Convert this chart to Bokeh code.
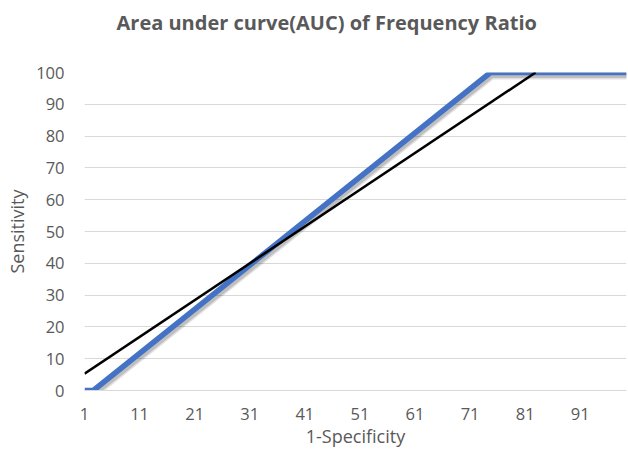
from bokeh.plotting import figure
from bokeh.models import Range1d, FixedTicker, Title
from bokeh.embed import file_html
from bokeh.resources import INLINE

# Data (breakpoints of the ROC curve and the trend line)
roc_x = [1, 2.6, 74.7, 99.4]
roc_y = [0, 0, 100, 100]
trend_x = [1, 82.9]
trend_y = [5.3, 100]
x_ticks = [1, 11, 21, 31, 41, 51, 61, 71, 81, 91]
y_ticks = [0, 10, 20, 30, 40, 50, 60, 70, 80, 90, 100]
title_text = "Area under curve(AUC) of Frequency Ratio"

FONT = "Open Sans"
GREY = "#595959"

p = figure(width=628, height=455, x_range=Range1d(1, 99.4), y_range=Range1d(0, 100),
           title=title_text, output_backend="svg", toolbar_location=None,
           min_border_left=84, min_border_right=2, min_border_top=72, min_border_bottom=65)
p.outline_line_color = None
p.background_fill_color = "white"
p.border_fill_color = "white"

p.title.text_font = FONT
p.title.text_font_size = "20px"
p.title.text_font_style = "bold"
p.title.text_color = GREY
p.title.align = "left"
p.title.offset = 32
p.title.standoff = 10

# invisible spacer between the title and the plot frame
p.add_layout(Title(text=" ", text_font_size="1px", standoff=29), "above")

p.xaxis.ticker = FixedTicker(ticks=x_ticks)
p.yaxis.ticker = FixedTicker(ticks=y_ticks)
for ax in (p.xaxis, p.yaxis):
    ax.major_tick_line_color = None
    ax.minor_tick_line_color = None
    ax.major_label_text_font = FONT
    ax.major_label_text_font_size = "16.5px"
    ax.major_label_text_color = GREY
    ax.axis_label_text_font = FONT
    ax.axis_label_text_font_size = "18px"
    ax.axis_label_text_font_style = "normal"
    ax.axis_label_text_color = GREY
p.xaxis.axis_label = "1-Specificity"
p.yaxis.axis_label = "Sensitivity"
p.xaxis.axis_line_color = "#d9d9d9"
p.yaxis.axis_line_color = None
p.xaxis.major_label_standoff = 11
p.yaxis.major_label_standoff = 14
p.xaxis.axis_label_standoff = 1
p.yaxis.axis_label_standoff = 4

p.xgrid.grid_line_color = None
p.ygrid.grid_line_color = "#d9d9d9"
p.ygrid.grid_line_width = 1

# pixel -> data conversions for the drop shadow offset
px_x = (99.4 - 1) / 542.0
px_y = 100 / 318.0
sx = [v + 1.5 * px_x for v in roc_x]
sy = [v - 3.0 * px_y for v in roc_y]
p.line(sx, sy, line_color="#000000", line_alpha=0.12, line_width=8, line_join="round")
p.line(sx, sy, line_color="#000000", line_alpha=0.15, line_width=5, line_join="round")

p.line(roc_x, roc_y, line_color="#4472C4", line_width=5.5, line_join="round")
p.line(trend_x, trend_y, line_color="#000000", line_width=2.5)

open("out.html", "w").write(file_html(p, INLINE))
